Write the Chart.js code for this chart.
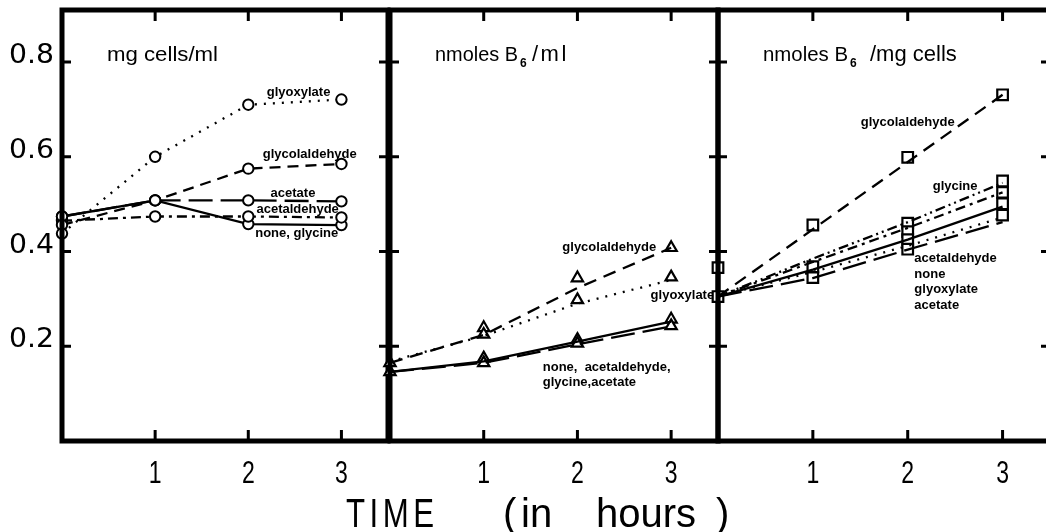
<!DOCTYPE html>
<html>
<head>
<meta charset="utf-8">
<script src="https://cdn.jsdelivr.net/npm/chart.js@4.4.1/dist/chart.umd.min.js"></script>
<style>
  html, body { margin: 0; padding: 0; background: #fff; overflow: hidden; width: 1046px; height: 532px; }
  canvas { position: absolute; left: 0; top: 0; }
</style>
</head>
<body>
<canvas id="cells" width="1060" height="532"></canvas>
<canvas id="b6ml" width="1060" height="532"></canvas>
<canvas id="b6mg" width="1060" height="532"></canvas>
<script>
// shared axes
const hours = [0, 1, 2, 3];
const xTicks = [1, 2, 3];
const yTicks = [0.2, 0.4, 0.6, 0.8];
const yTickLabels = ["0.2", "0.4", "0.6", "0.8"];

// panel 1 - mg cells/ml (circles)
const cellsGlyoxylate = [0.438, 0.600, 0.710, 0.721];
const cellsGlycolaldehyde = [0.456, 0.508, 0.575, 0.585];
const cellsAcetate = [0.474, 0.508, 0.508, 0.506];
const cellsAcetaldehyde = [0.465, 0.474, 0.474, 0.472];
const cellsNoneGlycine = [0.474, 0.508, 0.458, 0.456];

// panel 2 - nmoles B6/ml (triangles)
const mlGlycolaldehydeLine = [0.165, 0.224, 0.323, 0.408];
const mlGlyoxylateLine = [0.168, 0.222, 0.290, 0.340];
const mlNoneLine = [0.146, 0.168, 0.210, 0.252];
const mlAcetateLine = [0.146, 0.165, 0.204, 0.242];
const mlPointHours = [0, 0, 1, 1, 1, 1, 2, 2, 2, 2, 3, 3, 3, 3];
const mlPointValues = [0.165, 0.146, 0.239, 0.225, 0.175, 0.165, 0.344, 0.298, 0.214, 0.206, 0.408, 0.346, 0.257, 0.243];

// panel 3 - nmoles B6/mg cells (squares)
const mgGlycolaldehydeLine = [0.305, 0.447, 0.589, 0.731];
const mgGlycineLine = [0.305, 0.385, 0.462, 0.545];
const mgAcetaldehydeLine = [0.305, 0.378, 0.450, 0.525];
const mgNoneLine = [0.305, 0.362, 0.425, 0.495];
const mgGlyoxylateLine = [0.305, 0.357, 0.412, 0.472];
const mgAcetateLine = [0.305, 0.344, 0.404, 0.462];
const mgPointHours = [0, 0, 1, 1, 1, 2, 2, 2, 2, 2, 3, 3, 3, 3, 3];
const mgPointValues = [0.366, 0.305, 0.456, 0.368, 0.345, 0.599, 0.460, 0.442, 0.425, 0.405, 0.731, 0.549, 0.525, 0.501, 0.477];

// dash styles
const DOTTED = [2, 7];
const DASHED = [11, 7];
const LONGDASH = [24, 8];
const DASHDOT = [10, 5, 3, 5];
const DASHDOTDOT = [10, 4, 2, 4, 2, 4];

const SANS = "'Liberation Sans', Arial, sans-serif";

function pts(xs, ys) {
  return ys.map((v, i) => ({ x: xs[i], y: v }));
}

function lineSet(values, dash, withPoints) {
  return {
    data: pts(hours, values),
    showLine: true,
    borderColor: "#000",
    borderWidth: 2.3,
    borderDash: dash,
    pointRadius: withPoints ? 5.2 : 0,
    pointStyle: "circle",
    pointBorderWidth: 2,
    pointBackgroundColor: "#fff",
    pointBorderColor: "#000",
    clip: 8
  };
}

function pointSet(xs, ys, style, r) {
  return {
    data: pts(xs, ys),
    showLine: false,
    pointStyle: style,
    pointRadius: r,
    pointBorderWidth: 2.2,
    pointBackgroundColor: "#fff",
    pointBorderColor: "#000",
    clip: 10
  };
}

// squeeze / stretch a string to a given width
function fitText(ctx, text, left, baseline, width) {
  const w = ctx.measureText(text).width;
  ctx.save();
  ctx.translate(left, baseline);
  ctx.scale(width / w, 1);
  ctx.textAlign = "left";
  ctx.fillText(text, 0, 0);
  ctx.restore();
}

// narrow letters, spread out to a given width
function spacedText(ctx, text, left, baseline, width, squeeze) {
  ctx.save();
  ctx.translate(left, baseline);
  ctx.scale(squeeze, 1);
  ctx.letterSpacing = "0px";
  const w = ctx.measureText(text).width;
  ctx.letterSpacing = ((width / squeeze - w) / (text.length - 1)) + "px";
  ctx.textAlign = "left";
  ctx.fillText(text, 0, 0);
  ctx.restore();
}

// border, inward ticks, titles and curve labels
const framePlugin = {
  id: "frame",
  afterDraw(chart, args, opts) {
    const ctx = chart.ctx;
    const a = chart.chartArea;
    const xs = chart.scales.x, ys = chart.scales.y;
    ctx.save();
    ctx.strokeStyle = "#000";
    ctx.fillStyle = "#000";
    ctx.lineWidth = 5;
    ctx.strokeRect(a.left, a.top, a.right - a.left, a.bottom - a.top);

    ctx.lineWidth = 3;
    ctx.beginPath();
    yTicks.forEach(v => {
      const y = ys.getPixelForValue(v);
      ctx.moveTo(a.left, y); ctx.lineTo(a.left + 9, y);
      ctx.moveTo(a.right, y); ctx.lineTo(a.right - 9, y);
    });
    xTicks.forEach(v => {
      const x = xs.getPixelForValue(v);
      ctx.moveTo(x, a.top); ctx.lineTo(x, a.top + 11);
      ctx.moveTo(x, a.bottom); ctx.lineTo(x, a.bottom - 11);
    });
    ctx.stroke();

    // x tick numbers, narrow
    ctx.font = "32px " + SANS;
    ctx.textAlign = "center";
    ctx.textBaseline = "alphabetic";
    xTicks.forEach(v => {
      ctx.save();
      ctx.translate(xs.getPixelForValue(v), 483);
      ctx.scale(0.72, 1);
      ctx.fillText(String(v), 0, 0);
      ctx.restore();
    });

    // y tick numbers (left panel only)
    if (opts.yLabels) {
      ctx.font = "27px 'DejaVu Sans', sans-serif";
      yTicks.forEach((v, i) => {
        fitText(ctx, yTickLabels[i], 9, ys.getPixelForValue(v) + 1, 45);
      });
    }

    // panel title
    const t = opts.title;
    ctx.font = "20px " + SANS;
    fitText(ctx, t.main, a.left + t.offset, 61, t.width);
    if (t.sub) {
      ctx.font = "bold 12px " + SANS;
      ctx.textAlign = "left";
      ctx.fillText(t.sub, a.left + t.subOffset, 67);
      ctx.font = "22px " + SANS;
      ctx.letterSpacing = t.restSpacing + "px";
      ctx.fillText(t.rest, a.left + t.restOffset, 61);
      ctx.letterSpacing = "0px";
    }

    // curve labels
    ctx.font = "bold 13px " + SANS;
    ctx.textBaseline = "middle";
    opts.labels.forEach(l => {
      ctx.textAlign = l.align || "center";
      ctx.fillText(l.text, xs.getPixelForValue(l.x), ys.getPixelForValue(l.y));
    });

    // common axis title
    if (opts.axisTitle) {
      ctx.textBaseline = "alphabetic";
      ctx.textAlign = "left";
      ctx.font = "40px " + SANS;
      spacedText(ctx, "TIME", 346, 527, 88, 0.78);
      ctx.fillText("(", 503, 527);
      ctx.fillText("in", 521, 527);
      ctx.fillText("hours", 596, 527);
      ctx.fillText(")", 716, 527);
    }
    ctx.restore();
  }
};

function makePanel(id, left, right, datasets, frameOpts) {
  return new Chart(document.getElementById(id), {
    type: "scatter",
    data: { datasets: datasets },
    options: {
      responsive: false,
      animation: false,
      layout: { padding: { left: left, right: 1060 - right, top: 10, bottom: 91 } },
      scales: {
        x: { type: "linear", min: 0, max: 3.5, display: false },
        y: { type: "linear", min: 0, max: 0.91, display: false }
      },
      plugins: {
        legend: { display: false },
        tooltip: { enabled: false },
        frame: frameOpts
      }
    },
    plugins: [framePlugin]
  });
}

makePanel("cells", 62, 388, [
  lineSet(cellsGlyoxylate, DOTTED, true),
  lineSet(cellsGlycolaldehyde, DASHED, true),
  lineSet(cellsAcetate, LONGDASH, true),
  lineSet(cellsAcetaldehyde, DASHDOT, true),
  lineSet(cellsNoneGlycine, [], true)
], {
  yLabels: true,
  axisTitle: true,
  title: { main: "mg cells/ml", offset: 45, width: 111 },
  labels: [
    { text: "glyoxylate", x: 2.54, y: 0.737 },
    { text: "glycolaldehyde", x: 2.66, y: 0.606 },
    { text: "acetate", x: 2.48, y: 0.522 },
    { text: "acetaldehyde", x: 2.53, y: 0.490 },
    { text: "none, glycine", x: 2.52, y: 0.438 }
  ]
});

makePanel("b6ml", 390, 718, [
  lineSet(mlGlycolaldehydeLine, [13, 8], false),
  lineSet(mlGlyoxylateLine, DOTTED, false),
  lineSet(mlAcetateLine, LONGDASH, false),
  lineSet(mlNoneLine, [], false),
  pointSet(mlPointHours, mlPointValues, "triangle", 6.5)
], {
  yLabels: false,
  title: { main: "nmoles B", offset: 45, width: 83, sub: "6", subOffset: 130, rest: "/ml", restOffset: 142, restSpacing: 2.5 },
  labels: [
    { text: "glycolaldehyde", x: 2.34, y: 0.409 },
    { text: "glyoxylate", x: 3.12, y: 0.308 },
    { text: "none,  acetaldehyde,", x: 1.63, y: 0.156, align: "left" },
    { text: "glycine,acetate", x: 1.63, y: 0.123, align: "left" }
  ]
});

makePanel("b6mg", 718, 1050, [
  lineSet(mgGlycolaldehydeLine, [13, 8], false),
  lineSet(mgGlycineLine, DASHDOTDOT, false),
  lineSet(mgAcetaldehydeLine, DASHDOT, false),
  lineSet(mgNoneLine, [], false),
  lineSet(mgGlyoxylateLine, DOTTED, false),
  lineSet(mgAcetateLine, LONGDASH, false),
  pointSet(mgPointHours, mgPointValues, "rect", 7.5)
], {
  yLabels: false,
  title: { main: "nmoles B", offset: 45, width: 85, sub: "6", subOffset: 132, rest: "/mg cells", restOffset: 152, restSpacing: 0 },
  labels: [
    { text: "glycolaldehyde", x: 2.0, y: 0.673 },
    { text: "glycine", x: 2.50, y: 0.537 },
    { text: "acetaldehyde", x: 2.07, y: 0.385, align: "left" },
    { text: "none", x: 2.07, y: 0.351, align: "left" },
    { text: "glyoxylate", x: 2.07, y: 0.321, align: "left" },
    { text: "acetate", x: 2.07, y: 0.287, align: "left" }
  ]
});
</script>
</body>
</html>
